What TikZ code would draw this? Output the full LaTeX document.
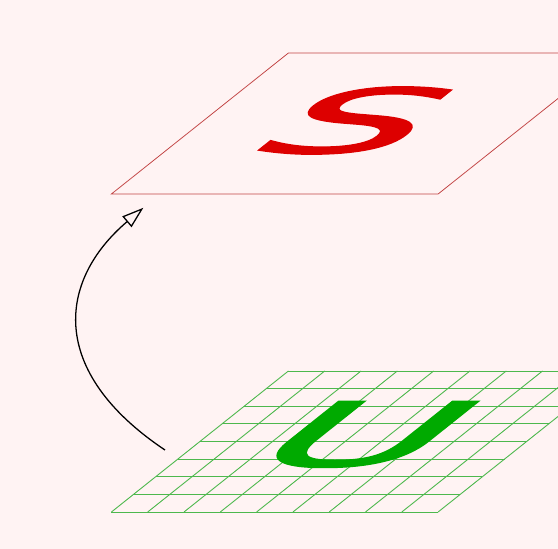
\documentclass[tikz,border=0pt]{standalone}
\usepackage{fontspec}
\newfontfamily\letterfont[FakeBold=1.5]{DejaVu Sans}
\usetikzlibrary{arrows.meta}
\definecolor{paper}{HTML}{FFF3F3}
\definecolor{sred}{HTML}{DD0000}
\definecolor{rim}{HTML}{C24444}
\definecolor{ugreen}{HTML}{00AA00}
\definecolor{mesh}{HTML}{4DB84D}

\tikzset{
  letter/.style={inner sep=0pt,transform shape,xscale=1.35,font=\letterfont\fontsize{144}{150}\selectfont},
  meshline/.style={mesh,line width=0.7pt},
}

\begin{document}
\begin{tikzpicture}
\useasboundingbox (0,0) rectangle (15.372,15.124);
\clip (0,0) rectangle (15.372,15.124);
\fill[paper] (0,0) rectangle (15.372,15.124);
% lower plane: grid with U
\begin{scope}[cm={1,0,0.6095,0.4855,(3.07,1.02)}]
\foreach \u in {0,...,9}\draw[meshline] (\u,0)--(\u,8);
\foreach \v in {0,...,8}\draw[meshline] (0,\v)--(9,\v);
\node[letter,text=ugreen] (uletter) at (4.36,4.4) {U};
\end{scope}
% upper plane with S
\begin{scope}[cm={1,0,0.6095,0.4855,(3.07,9.78)}]
\draw[rim,line width=0.6pt] (0,0) rectangle (9,8);
\node[letter,text=sred] (sletter) at (4.26,4.17) {S};
\end{scope}
\coordinate (from) at (4.545,2.727);
\coordinate (to) at (3.95,9.40);
\draw[-{Triangle[open,length=17pt,width=11pt]},line width=1pt] (from) .. controls (1.3,4.9) and (1.6,7.4) .. (to);
\end{tikzpicture}
\end{document}
